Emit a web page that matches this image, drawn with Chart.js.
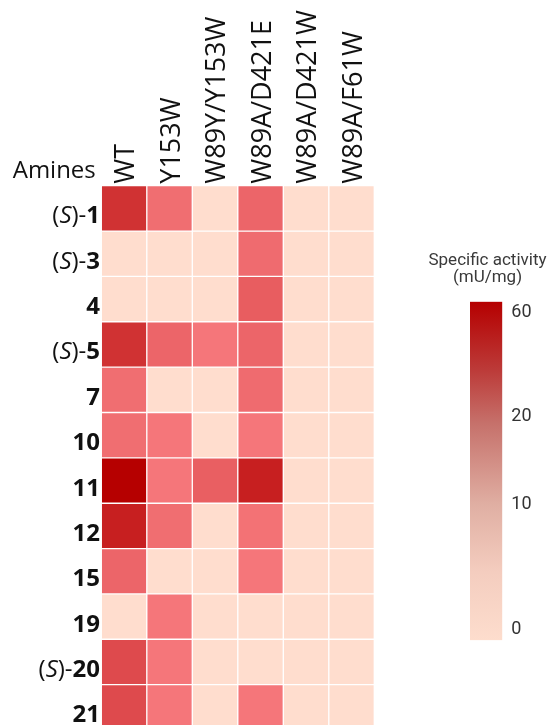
<!DOCTYPE html>
<html>
<head>
<meta charset="utf-8">
<script src="https://cdn.jsdelivr.net/npm/chart.js@4.4.1/dist/chart.umd.min.js"></script>
<style>
  html, body { margin: 0; padding: 0; background: #fff; overflow: hidden; }
  #wrap { position: relative; width: 552px; height: 725px; }
  #heat { position: absolute; left: 0; top: 0; }
  #scale { position: absolute; left: 420px; top: 240px; }
</style>
</head>
<body>
<div id="wrap">
  <canvas id="heat" width="380" height="745"></canvas>
  <canvas id="scale" width="132" height="420"></canvas>
</div>
<script>
const amines = ['(S)-1', '(S)-3', '4', '(S)-5', '7', '10', '11', '12', '15', '19', '(S)-20', '21'];
const variants = ['WT', 'Y153W', 'W89Y/Y153W', 'W89A/D421E', 'W89A/D421W', 'W89A/F61W'];

// specific activity (mU/mg), one row per amine, columns in variant order
const activity = [
  [36, 7, 0, 11, 0, 0],
  [0, 0, 0, 8, 0, 0],
  [0, 0, 0, 15, 0, 0],
  [36, 11, 3, 11, 0, 0],
  [7, 0, 0, 8, 0, 0],
  [7, 3, 0, 3, 0, 0],
  [60, 3, 14, 45, 0, 0],
  [45, 7, 0, 5, 0, 0],
  [11, 0, 0, 3, 0, 0],
  [0, 3, 0, 0, 0, 0],
  [24, 3, 0, 0, 0, 0],
  [24, 3, 0, 3, 0, 0],
];

// colour bar labels and where they sit on the bar (0 = bottom, 1 = top)
const scaleTicks = [0, 10, 20, 60];
const scaleBreaks = [0, 0.3925, 0.673, 1];
const scaleLo = -0.035, scaleHi = 1.035;

function cellColor(v) {
  if (v <= 0) return '#FFDDCE';
  const f = Math.min(v / 60, 1);
  const lo = [248, 124, 128], hi = [182, 0, 0];
  const c = lo.map((a, i) => Math.round(a + (hi[i] - a) * f));
  return `rgb(${c[0]},${c[1]},${c[2]})`;
}

const rowLabels = {
  id: 'rowLabels',
  afterDraw(chart) {
    const ctx = chart.ctx;
    const y = chart.scales.y;
    const right = chart.chartArea.left - 1.3;
    ctx.save();
    ctx.fillStyle = '#111';
    ctx.textBaseline = 'alphabetic';
    ctx.textAlign = 'left';
    ctx.font = '24px "Open Sans"';
    ctx.fillText('Amines', 12.7, 178);

    amines.forEach((name, r) => {
      const m = name.match(/^\(S\)-(.*)$/);
      const parts = m
        ? [['(', ''], ['S', 'italic '], [')-', ''], [m[1], 'bold ']]
        : [[name, 'bold ']];
      let total = 0;
      const widths = parts.map(([t, style]) => {
        ctx.font = style + '24px "Open Sans"';
        const w = ctx.measureText(t).width;
        total += w;
        return w;
      });
      let x = right - total;
      const base = y.getPixelForValue(r + 0.5) + 15;
      parts.forEach(([t, style], i) => {
        ctx.font = style + '24px "Open Sans"';
        ctx.fillText(t, x, base);
        x += widths[i];
      });
    });
    ctx.restore();
  }
};

new Chart(document.getElementById('heat'), {
  type: 'bar',
  data: {
    labels: variants,
    datasets: amines.map((name, r) => ({
      label: name,
      data: variants.map(() => 1),
      backgroundColor: activity[r].map(cellColor),
      borderColor: 'rgba(255,255,255,0.13)',
      borderWidth: 1,
      borderSkipped: false,
      barPercentage: 1,
      categoryPercentage: 1,
    })),
  },
  options: {
    responsive: false,
    animation: false,
    layout: { padding: { left: 0, right: 5.7, top: 0, bottom: 15 } },
    plugins: { legend: { display: false }, tooltip: { enabled: false } },
    scales: {
      x: {
        position: 'top',
        stacked: true,
        grid: { display: false, drawTicks: false },
        border: { display: false },
        ticks: {
          autoSkip: false,
          minRotation: 90,
          maxRotation: 90,
          padding: 2,
          labelOffset: 35,
          color: '#111',
          font: { family: 'Open Sans', size: 27 },
        },
        afterFit: s => { s.height = 185.7; },
      },
      y: {
        stacked: true,
        reverse: true,
        min: 0,
        max: amines.length,
        grid: { display: false, drawTicks: false },
        border: { display: false },
        ticks: { display: false },
        afterFit: s => { s.width = 101.3; },
      },
    },
  },
  plugins: [rowLabels],
});

const scaleTitle = {
  id: 'scaleTitle',
  afterDraw(chart) {
    const ctx = chart.ctx;
    ctx.save();
    ctx.fillStyle = '#3a3a3a';
    ctx.font = '17px Roboto';
    ctx.textAlign = 'center';
    ctx.textBaseline = 'alphabetic';
    ctx.fillText('Specific activity', 67.5, 25);
    ctx.fillText('(mU/mg)', 67.5, 42);
    ctx.restore();
  }
};

new Chart(document.getElementById('scale'), {
  type: 'bar',
  data: {
    labels: [''],
    datasets: [{
      data: [[scaleLo, scaleHi]],
      backgroundColor: c => {
        const a = c.chart.chartArea;
        if (!a) return null;
        const g = c.chart.ctx.createLinearGradient(0, a.top, 0, a.bottom);
        g.addColorStop(0, '#B50000');
        g.addColorStop(0.2, '#BC3A38');
        g.addColorStop(0.36, '#C6716B');
        g.addColorStop(0.6, '#E0AFA3');
        g.addColorStop(0.8, '#F4CDBF');
        g.addColorStop(1, '#FDDDCD');
        return g;
      },
      borderWidth: 0,
      barPercentage: 1,
      categoryPercentage: 1,
    }],
  },
  options: {
    responsive: false,
    animation: false,
    layout: { padding: { left: 50, right: 0, top: 61.7, bottom: 15 } },
    plugins: { legend: { display: false }, tooltip: { enabled: false } },
    scales: {
      x: { display: false },
      y: {
        position: 'right',
        min: scaleLo,
        max: scaleHi,
        grid: { display: false, drawTicks: false },
        border: { display: false },
        afterBuildTicks: s => { s.ticks = scaleBreaks.map(v => ({ value: v })); },
        ticks: {
          padding: 9,
          color: '#333',
          font: { family: 'Roboto', size: 18 },
          callback: (v, i) => scaleTicks[i],
        },
        afterFit: s => { s.width = 49.7; },
      },
    },
  },
  plugins: [scaleTitle],
});
</script>
</body>
</html>
